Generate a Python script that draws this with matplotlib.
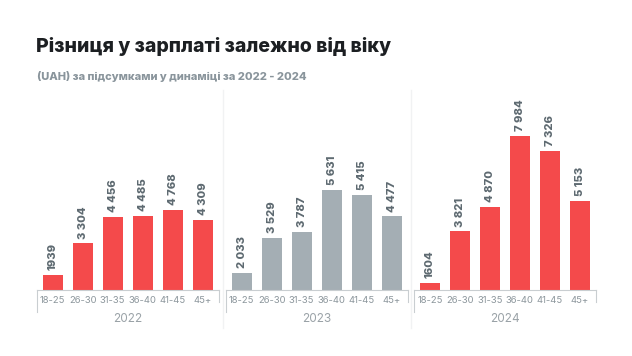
import matplotlib.pyplot as plt

plt.rcParams['font.family'] = ['Inter', 'DejaVu Sans']

ages = ['18-25', '26-30', '31-35', '36-40', '41-45', '45+']
years = ['2022', '2023', '2024']
gap_2022 = [1939, 3304, 4456, 4485, 4768, 4309]
gap_2023 = [2033, 3529, 3787, 5631, 5415, 4477]
gap_2024 = [1604, 3821, 4870, 7984, 7326, 5153]
values = [gap_2022, gap_2023, gap_2024]
bar_colors = ['#f44a4b', '#a4aeb4', '#f44a4b']

W, H = 632, 356
fig = plt.figure(figsize=(W / 100, H / 100), dpi=100)
fig.patch.set_facecolor('white')

# title block
fig.text(36 / W, 1 - 47 / H, 'Різниця у зарплаті залежно від віку',
         fontsize=14, fontweight='heavy', color='#1c1f22', va='center')
fig.text(37 / W, 1 - 77 / H, '(UAH) за підсумками у динаміці за 2022 - 2024',
         fontsize=8, fontweight='heavy', color='#8a959c', va='center')

# faint separators between years
for sx in [222.5, 410.5]:
    fig.add_artist(plt.Line2D([sx / W, sx / W], [1 - 90 / H, 1 - 328 / H],
                              color='#f1f2f3', lw=1))

lefts = [36.7, 225.7, 414]
ax_w = 181.8
base = 289.5
top = 90
for k in range(3):
    ax = fig.add_axes([lefts[k] / W, 1 - base / H, ax_w / W, (base - top) / H])
    x = list(range(len(ages)))
    ax.bar(x, values[k], width=0.67, color=bar_colors[k])
    ax.set_xlim(-0.53, 5.53)
    ax.set_ylim(1300, 9970)
    for xi, v in zip(x, values[k]):
        lab = f'{v:,}'.replace(',', ' ') if v >= 2000 else str(v)
        ax.annotate(lab, (xi, v), xytext=(0, 3.5), textcoords='offset points',
                    rotation=90, ha='center', va='bottom', fontsize=8,
                    fontweight='heavy', color='#5e6a71')
    ax.set_xticks(x)
    ax.set_xticklabels(ages, fontsize=6.8, color='#8c969c')
    ax.tick_params(axis='x', length=0, pad=5)
    ax.set_yticks([])
    for s in ['top', 'right', 'left']:
        ax.spines[s].set_visible(False)
    ax.spines['bottom'].set_color('#c9ced1')
    ax.spines['bottom'].set_linewidth(0.8)
    h = base - top
    ax.plot([0, 0], [0, -22.5 / h], transform=ax.transAxes, clip_on=False,
            color='#c9ced1', lw=0.8)
    ax.plot([1, 1], [0, -12.5 / h], transform=ax.transAxes, clip_on=False,
            color='#c9ced1', lw=0.8)
    ax.text(0.5, -30 / h, years[k], transform=ax.transAxes, ha='center',
            va='center', fontsize=8.5, color='#9aa2a7')
    ax.patch.set_alpha(0)

fig.savefig('out.png', dpi=100)
